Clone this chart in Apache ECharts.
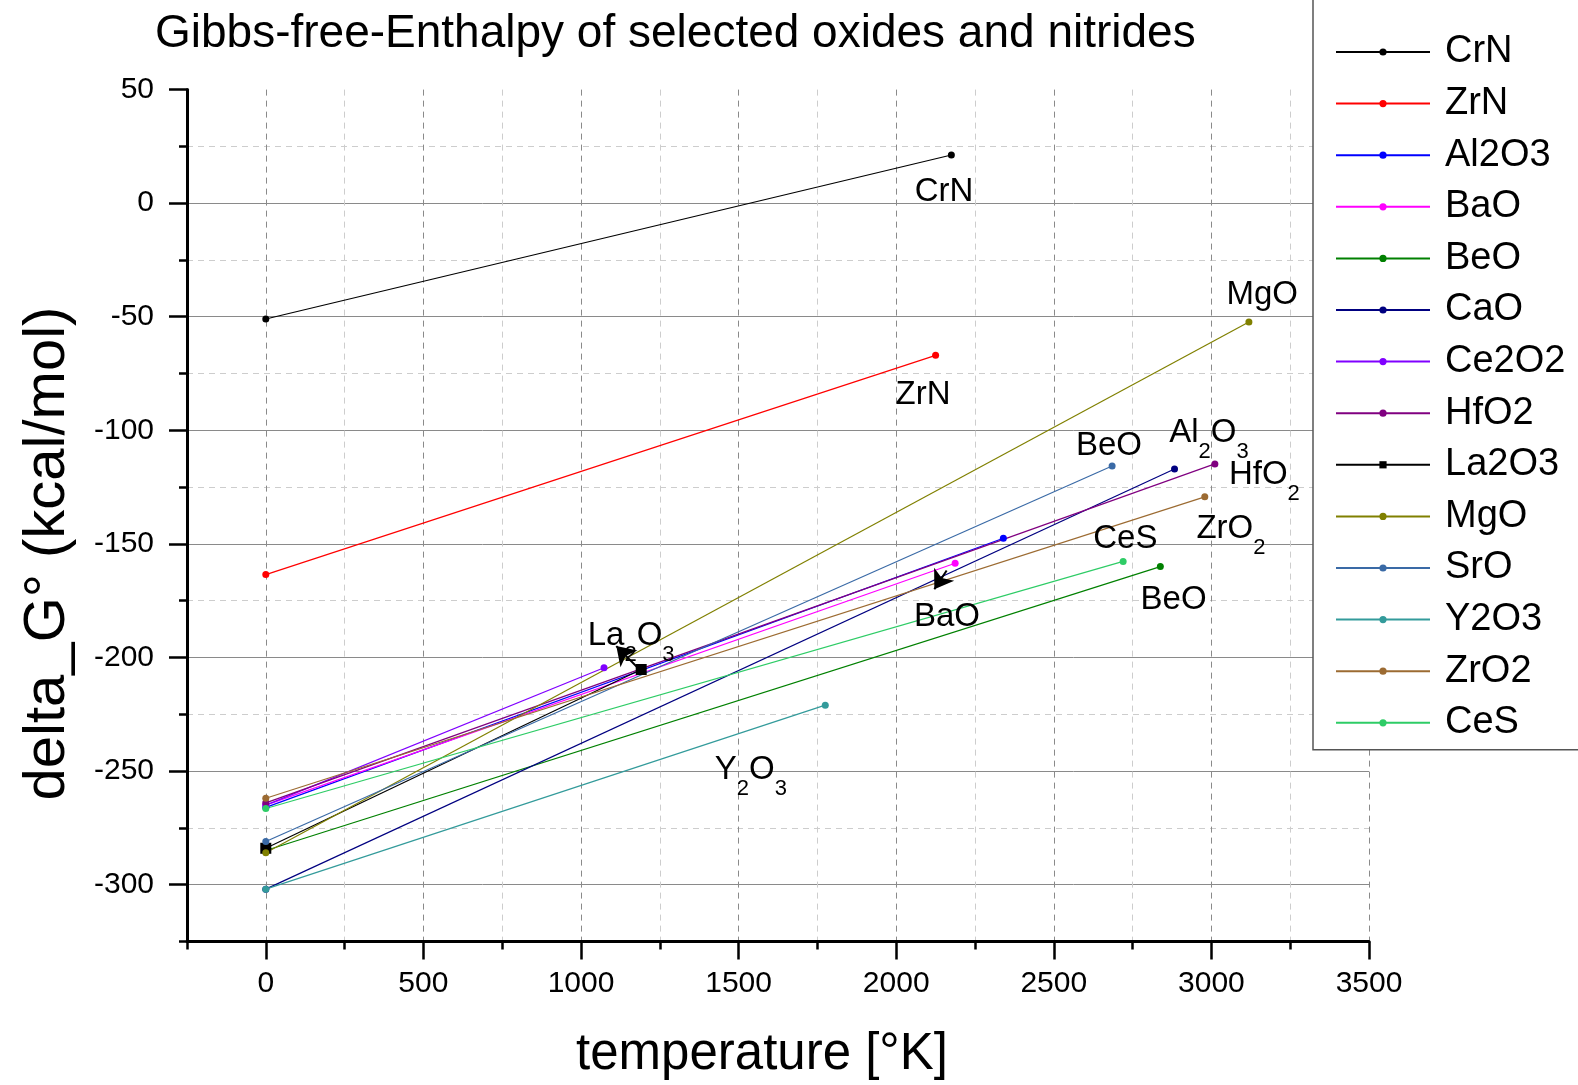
<!DOCTYPE html>
<html>
<head>
<meta charset="utf-8">
<title>Gibbs-free-Enthalpy of selected oxides and nitrides</title>
<script src="https://cdn.jsdelivr.net/npm/echarts@6.0.0/dist/echarts.min.js"></script>
<style>
  html, body { margin: 0; padding: 0; background: #fff; }
  #chart { width: 1578px; height: 1085px; }
</style>
</head>
<body>
<div id="chart"></div>
<script>
  // values: temperature in K, delta G in kcal/mol
  const compounds = ['CrN', 'ZrN', 'Al2O3', 'BaO', 'BeO', 'CaO', 'Ce2O2', 'HfO2', 'La2O3', 'MgO', 'SrO', 'Y2O3', 'ZrO2', 'CeS'];
  const lineColors = ['#000000', '#ff0000', '#0000ff', '#ff00ff', '#008000', '#000080', '#8000ff', '#800080', '#000000', '#808000', '#3a6aa6', '#339b9b', '#9c6b32', '#2ecc66'];
  const tLow = [0, 0, 0, 0, 0, 0, 0, 0, 0, 0, 0, 0, 0, 0];
  const gLow = [-51, -163.5, -266, -265, -285, -302, -265, -264, -284, -286, -281, -302, -262, -266.5];
  const tHigh = [2175, 2125, 2340, 2187, 2838, 2883, 1073, 3011, 1191, 3119, 2685, 1775, 2979, 2720];
  const gHigh = [21.2, -67, -147.5, -158.5, -160, -117, -204.5, -114.8, -205.3, -52.3, -115.7, -221, -129.3, -157.7];

  const xMajorTicks = [0, 500, 1000, 1500, 2000, 2500, 3000, 3500];
  const xMinorTicks = [-250, 250, 750, 1250, 1750, 2250, 2750, 3250];
  const yMajorTicks = [-300, -250, -200, -150, -100, -50, 0, 50];
  const yMinorTicks = [-325, -275, -225, -175, -125, -75, -25, 25];

  // text notes written inside the plot
  const noteText = ['CrN', 'ZrN', 'MgO', 'BeO', 'Al2O3', 'HfO2', 'CeS', 'ZrO2', 'BeO', 'BaO', 'La2O3', 'Y2O3'];
  const noteT = [2152, 2085, 3161, 2675, 2992, 3168, 2727, 3062, 2880, 2161, 1159, 1539];
  const noteG = [4.9, -84.2, -40.3, -106.8, -101, -119.6, -148, -143.5, -174.5, -182, -190.5, -249.5];

  // little arrows: from -> to
  const arrowFrom = [[1180, -204.5], [2160, -161.7]];
  const arrowTo = [[1112, -195], [2121, -170]];

  const FONT = 'Arial, "Liberation Sans", Helvetica, sans-serif';

  const chart = echarts.init(document.getElementById('chart'));

  const series = compounds.map((name, i) => ({
    name: name,
    type: 'line',
    xAxisIndex: 0,
    yAxisIndex: 0,
    data: [[tLow[i], gLow[i]], [tHigh[i], gHigh[i]]],
    symbol: name === 'La2O3' ? 'rect' : 'circle',
    symbolSize: name === 'La2O3' ? 11 : 7,
    showSymbol: true,
    lineStyle: { color: lineColors[i], width: 1.2 },
    itemStyle: { color: lineColors[i] },
    emphasis: { disabled: true },
    z: 3,
  }));

  series.push({
    name: 'notes',
    type: 'scatter',
    xAxisIndex: 0,
    yAxisIndex: 0,
    data: noteText.map((t, i) => ({ name: t, value: [noteT[i], noteG[i]] })),
    symbolSize: 1,
    itemStyle: { color: 'rgba(0,0,0,0)' },
    silent: true,
    z: 5,
    label: {
      show: true,
      position: 'inside',
      color: '#000',
      opacity: 1,
      textBorderWidth: 0,
      fontSize: 33,
      fontFamily: FONT,
      formatter: (p) => p.name.replace(/(\d)/g, '{s|$1}'),
      rich: {
        s: { fontSize: 22, fontFamily: FONT, color: '#000', textBorderWidth: 0, padding: [38, 0, 0, 0] },
      },
    },
    markLine: {
      silent: true,
      animation: false,
      symbol: ['none', 'arrow'],
      symbolSize: 18,
      lineStyle: { color: '#000', width: 2, type: 'solid' },
      itemStyle: { color: '#000' },
      label: { show: false },
      data: arrowFrom.map((a, i) => [{ coord: a }, { coord: arrowTo[i] }]),
    },
  });

  const majorAxisBase = {
    type: 'value',
    axisLine: { show: true, onZero: false, lineStyle: { color: '#000', width: 3 } },
    axisTick: { show: true, inside: false, length: 18, lineStyle: { color: '#000', width: 2.5 } },
    axisLabel: { show: true, color: '#000', fontSize: 30, fontFamily: FONT, formatter: (v) => String(v) },
  };

  const option = {
    animation: false,
    backgroundColor: '#fff',
    title: {
      text: 'Gibbs-free-Enthalpy of selected oxides and nitrides',
      left: 150,
      top: 6,
      textStyle: { fontSize: 46, fontWeight: 'normal', color: '#000', fontFamily: FONT },
    },
    grid: { left: 187, right: 209, top: 89.6, bottom: 143.6, containLabel: false, outerBoundsMode: 'none' },
    legend: {
      data: compounds,
      orient: 'vertical',
      left: 1313,
      top: -2,
      padding: [35, 60, 8, 22],
      itemGap: 13.6,
      itemWidth: 94,
      itemHeight: 9,
      backgroundColor: '#fff',
      borderColor: '#555',
      borderWidth: 1.5,
      selectedMode: false,
      z: 10,
      textStyle: { fontSize: 38, lineHeight: 38, color: '#000', fontFamily: FONT, padding: [0, 0, 0, 10] },
    },
    xAxis: [
      Object.assign({}, majorAxisBase, {
        position: 'bottom',
        min: -250,
        max: 3500,
        name: 'temperature [°K]',
        nameLocation: 'middle',
        nameGap: 88,
        nameTextStyle: { fontSize: 51, color: '#000', fontFamily: FONT, padding: [0, 32, 0, 0] },
        axisTick: Object.assign({}, majorAxisBase.axisTick, { customValues: xMajorTicks }),
        axisLabel: Object.assign({}, majorAxisBase.axisLabel, { customValues: xMajorTicks, margin: 27 }),
        splitLine: { show: true, lineStyle: { color: '#8a8a8a', width: 1, type: [6, 5] } },
      }),
      {
        type: 'value',
        position: 'bottom',
        min: -250,
        max: 3500,
        axisLine: { show: false, onZero: false },
        axisTick: { show: true, inside: false, length: 8, customValues: xMinorTicks, lineStyle: { color: '#000', width: 2.5 } },
        axisLabel: { show: false },
        splitLine: { show: true, lineStyle: { color: '#cdcdcd', width: 1, type: [6, 5] } },
      },
    ],
    yAxis: [
      Object.assign({}, majorAxisBase, {
        position: 'left',
        min: -325,
        max: 50,
        name: 'delta_G° (kcal/mol)',
        nameLocation: 'middle',
        nameGap: 110,
        nameTextStyle: { fontSize: 58, color: '#000', fontFamily: FONT, padding: [0, 76, 0, 0] },
        axisTick: Object.assign({}, majorAxisBase.axisTick, { customValues: yMajorTicks }),
        axisLabel: Object.assign({}, majorAxisBase.axisLabel, { customValues: yMajorTicks, margin: 33 }),
        splitLine: { show: true, showMaxLine: false, lineStyle: { color: '#8a8a8a', width: 1, type: 'solid' } },
      }),
      {
        type: 'value',
        position: 'left',
        min: -325,
        max: 50,
        axisLine: { show: false, onZero: false },
        axisTick: { show: true, inside: false, length: 8, customValues: yMinorTicks, lineStyle: { color: '#000', width: 2.5 } },
        axisLabel: { show: false },
        splitLine: { show: true, lineStyle: { color: '#cdcdcd', width: 1, type: [6, 5] } },
      },
    ],
    series: series,
  };

  chart.setOption(option);

  window.addEventListener('resize', () => {
    chart && chart.resize();
  });
</script>
</body>
</html>
